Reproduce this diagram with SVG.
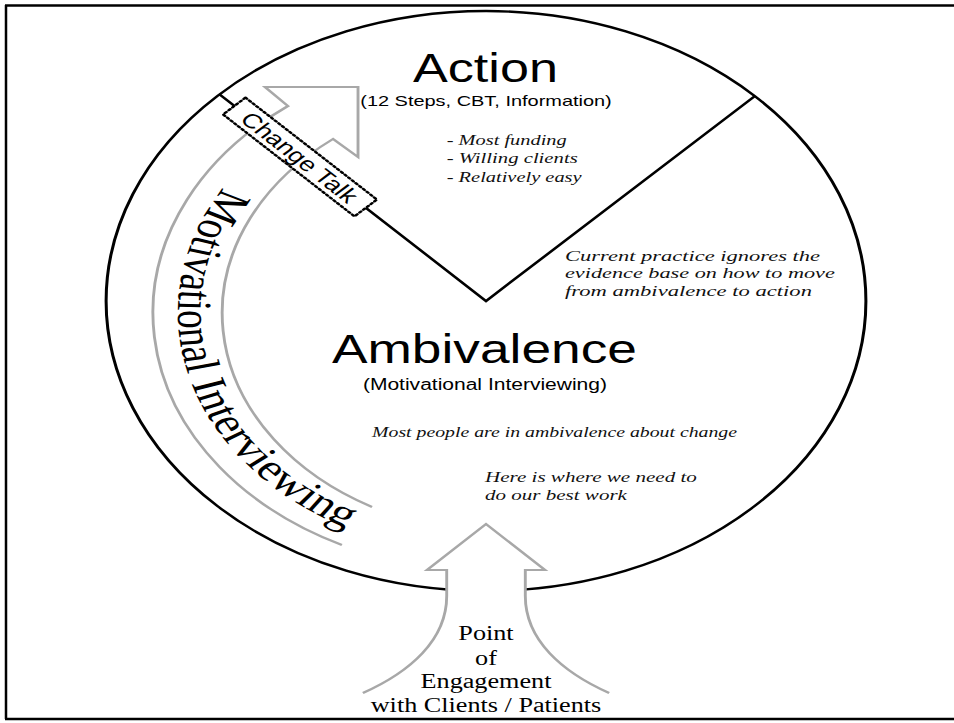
<svg xmlns="http://www.w3.org/2000/svg" width="954" height="723" viewBox="0 0 954 723">
<style>
.blk{fill:none;stroke:#000;stroke-width:2.3}
.gry{fill:#fff;stroke:#a8a8a8;stroke-width:2.2}
.sans{font-family:"Liberation Sans",Arial,sans-serif;fill:#000}
.it{font-family:"Liberation Serif","Times New Roman",serif;font-style:italic;font-size:15px;fill:#111}
.ser{font-family:"Liberation Serif","Times New Roman",serif;font-size:20px;fill:#000;text-anchor:middle}
</style>
<defs>
<path id="miPath" d="M170.5,187.5 A244,244 0 0 0 304.6,545.1"/>
</defs>
<rect x="0" y="0" width="954" height="723" fill="#fff"/>
<g id="frame" fill="none" stroke="#000" stroke-width="2.5">
<line x1="5" y1="5.5" x2="954" y2="5.5"/>
<line x1="6" y1="5" x2="6" y2="719"/>
<line x1="5" y1="719" x2="954" y2="719"/>
</g>
<g transform="scale(1.31 1)">
<g id="cycle">
<circle cx="371" cy="301" r="290" class="blk"/>
</g>
<g id="connectors">
<path id="mi-arrow" class="gry" d="M261,545 A259,259 0 0 1 219.8,106 L202.3,87 L273.3,87 L273.3,157 L254.2,139 A221.5,221.5 0 0 0 284,507" style="fill:none"/>
<polyline id="v-line" class="blk" points="167.2,94 371,301 576.3,96"/>
<path id="engage-arrow" class="gry" d="M277,693 C313,672 341,640 341,596 L341,570 L326,570 L371,524 L416,570 L401,570 L401,596 C401,640 429,672 465,693"/>
</g>
<g id="change-talk" transform="rotate(45.45 229 157)">
<rect x="157.5" y="145" width="143" height="24" fill="#fff" stroke="#000" stroke-width="2.2" stroke-dasharray="1.6 2.4" stroke-linecap="round"/>
<text class="sans" x="229" y="164.5" font-size="20" text-anchor="middle" textLength="118" lengthAdjust="spacingAndGlyphs">Change Talk</text>
</g>
<g id="mi-label">
<text font-family="'Liberation Serif','Times New Roman',serif" font-size="37.5" fill="#000"><textPath href="#miPath">Motivational Interviewing</textPath></text>
</g>
<g id="action">
<text class="sans" x="370.6" y="82" font-size="40" text-anchor="middle" textLength="110.7" lengthAdjust="spacingAndGlyphs">Action</text>
<text class="sans" x="371" y="106" font-size="15" text-anchor="middle" textLength="192" lengthAdjust="spacingAndGlyphs">(12 Steps, CBT, Information)</text>
<text class="it" x="341" y="145" textLength="91.6" lengthAdjust="spacingAndGlyphs">- Most funding</text>
<text class="it" x="341" y="163" textLength="100" lengthAdjust="spacingAndGlyphs">- Willing clients</text>
<text class="it" x="341" y="182" textLength="103" lengthAdjust="spacingAndGlyphs">- Relatively easy</text>
</g>
<g id="current-practice">
<text class="it" x="431.3" y="261" textLength="194.7" lengthAdjust="spacingAndGlyphs">Current practice ignores the</text>
<text class="it" x="431.3" y="278.5" textLength="206" lengthAdjust="spacingAndGlyphs">evidence base on how to move</text>
<text class="it" x="431.3" y="296" textLength="188.5" lengthAdjust="spacingAndGlyphs">from ambivalence to action</text>
</g>
<g id="ambivalence">
<text class="sans" x="369.8" y="363" font-size="40" text-anchor="middle" textLength="232.8" lengthAdjust="spacingAndGlyphs">Ambivalence</text>
<text class="sans" x="370.2" y="390" font-size="16" text-anchor="middle" textLength="186.3" lengthAdjust="spacingAndGlyphs">(Motivational Interviewing)</text>
<text class="it" x="284" y="437" textLength="278.6" lengthAdjust="spacingAndGlyphs">Most people are in ambivalence about change</text>
<text class="it" x="370.2" y="482" textLength="161.8" lengthAdjust="spacingAndGlyphs">Here is where we need to</text>
<text class="it" x="370.2" y="500" textLength="108.4" lengthAdjust="spacingAndGlyphs">do our best work</text>
</g>
<g id="engagement">
<text class="ser" x="371" y="640">Point</text>
<text class="ser" x="371" y="665">of</text>
<text class="ser" x="371" y="688">Engagement</text>
<text class="ser" x="371" y="712">with Clients / Patients</text>
</g>
</g>
</svg>
